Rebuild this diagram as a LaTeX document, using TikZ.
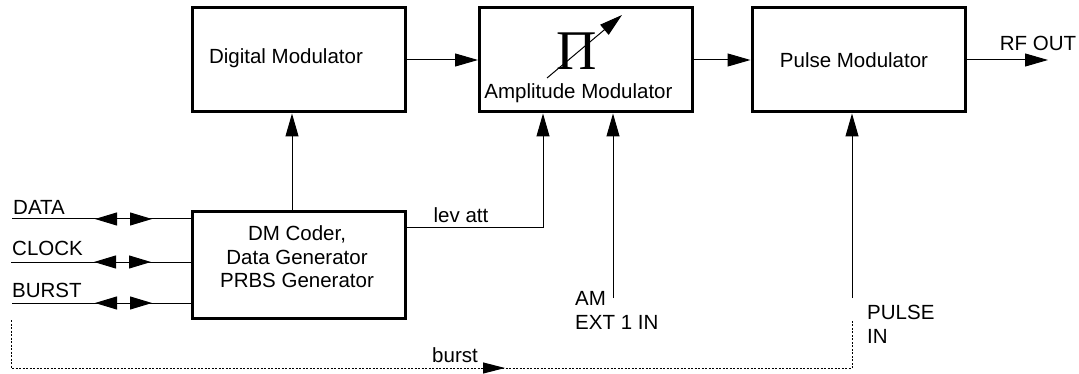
\documentclass[tikz,border=0pt]{standalone}
\usepackage{fontspec}
\setmainfont{Liberation Sans}
\newfontfamily\pifont{Liberation Serif}
\usetikzlibrary{arrows.meta, decorations.markings}

\begin{document}
\begin{tikzpicture}[x=1pt, y=-1pt,
    block/.style={draw, line width=3pt, minimum width=213pt, minimum height=104pt, inner sep=0pt},
    conn/.style={line width=1pt, -{Triangle[length=23pt, width=13pt]}},
    txt/.style={font=\fontsize{20.5}{23.5}\selectfont, inner sep=0pt},
    duplex/.style={line width=1pt, postaction={decorate}, decoration={markings,
        mark=at position 83pt with {\arrowreversed{Triangle[length=22pt, width=13pt]}},
        mark=at position 140pt with {\arrow{Triangle[length=22pt, width=13pt]}}}},
    burstline/.style={line width=1pt, dash pattern=on 2pt off 1.5pt, postaction={decorate},
        decoration={markings, mark=at position 542pt with {\arrow{Triangle[length=22pt, width=11pt]}}}},
    ]
    \useasboundingbox (0,0) rectangle (1079,374);

    % Define the blocks
    \node[block] (digmod) at (298.5,60) {};
    \node[block] (ampmod) at (586,60) {};
    \node[block] (pulsemod) at (858.5,60) {};
    \node[block, minimum height=106pt] (coder) at (298.5,265) {};

    % Texts inside the blocks
    \node[txt] (digmodtext) at (286,58) {Digital Modulator};
    \node[inner sep=0pt, font=\pifont\fontsize{56}{56}\selectfont] (pi) at (577,51) {Π};
    \node[txt] (ampmodtext) at (578.5,93) {Amplitude Modulator};
    \node[txt] (pulsemodtext) at (854,60) {Pulse Modulator};
    \node[txt, align=center] (codertext) at (297,257) {DM Coder,\\Data Generator\\PRBS Generator};

    % Free ends
    \coordinate (rfout) at (1048,60);
    \coordinate (pistart) at (547,78);
    \coordinate (piend) at (622,15);
    \coordinate (datain) at (12,219);
    \coordinate (clockin) at (11,262);
    \coordinate (burstin) at (12,303);
    \coordinate (amext) at (613,298);
    \coordinate (pulsein) at (852,298);
    \coordinate (burstsrc) at (11,320);
    \coordinate (bursttap) at (852,320);

    % Signal chain
    \draw[conn] (digmod.east) -- (ampmod.west);
    \draw[conn] (ampmod.east) -- (pulsemod.west);
    \draw[conn] (pulsemod.east) -- (rfout);
    \draw[conn] (pistart) -- (piend);

    % Control inputs
    \draw[conn] ([xshift=-6.5pt]coder.north) -- ([xshift=-6.5pt]digmod.south);
    \draw[conn] ([yshift=37pt]coder.east) -| ([xshift=-43pt]ampmod.south);
    \draw[conn] (amext) -- (amext |- ampmod.south);
    \draw[conn] (pulsein) -- (pulsein |- pulsemod.south);

    % Data ports
    \draw[duplex] (datain) -- (datain -| coder.west);
    \draw[duplex] (clockin) -- (clockin -| coder.west);
    \draw[duplex] (burstin) -- (burstin -| coder.west);

    % Burst loop
    \draw[burstline] (burstsrc) -- (11,368) -- (852,368) -- (bursttap);

    % Labels
    \node[txt, anchor=west] (datalabel) at (13,207) {DATA};
    \node[txt, anchor=west] (clocklabel) at (12,248) {CLOCK};
    \node[txt, anchor=west] (burstlabel) at (12,290) {BURST};
    \node[txt] (levatt) at (461,215) {lev att};
    \node[txt] (rflabel) at (1038,43) {RF OUT};
    \node[txt, anchor=west, align=left] (amlabel) at (575,310.5) {AM\\EXT 1 IN};
    \node[txt, anchor=west, align=left] (pulselabel) at (867,324.5) {PULSE\\IN};
    \node[txt] (burstname) at (455,355) {burst};
\end{tikzpicture}
\end{document}
